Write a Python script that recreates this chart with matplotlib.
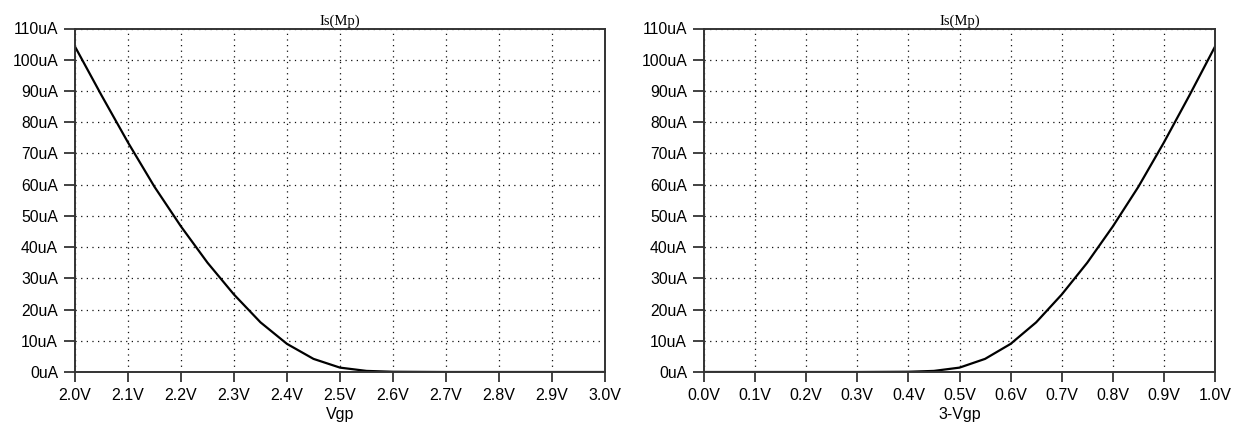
import numpy as np
from matplotlib import pyplot as plt

# values (uA)
vgp = [2.0, 2.05, 2.1, 2.15, 2.2, 2.25, 2.3, 2.35, 2.4, 2.45, 2.5, 2.55, 2.6,
       2.7, 2.8, 2.9, 3.0]
is_left = [104.2, 88.6, 73.5, 59.3, 46.6, 35.0, 24.8, 15.9, 9.0, 4.2, 1.4, 0.35, 0.08,
           0.0, 0.0, 0.0, 0.0]

vsg = [0.0, 0.1, 0.2, 0.3, 0.4, 0.45, 0.5, 0.55, 0.6, 0.65, 0.7, 0.75, 0.8,
       0.85, 0.9, 0.95, 1.0]
is_right = [0.0, 0.0, 0.0, 0.0, 0.08, 0.35, 1.4, 4.2, 9.0, 15.9, 24.8, 35.0, 46.6,
            59.3, 73.5, 88.6, 104.2]

yticks = list(range(0, 111, 10))
ylabels = ['%duA' % v for v in yticks]

fig = plt.figure(figsize=(12.34, 4.25), dpi=100)
W, H = 1234.0, 425.0
top, bottom = 28.5, 372.0
ax1 = fig.add_axes([75 / W, 1 - bottom / H, (605 - 75) / W, (bottom - top) / H])
ax2 = fig.add_axes([704 / W, 1 - bottom / H, (1215 - 704) / W, (bottom - top) / H])


def style(ax, xt, xl, xlabel):
    ax.set_ylim(0, 110)
    ax.set_yticks(yticks)
    ax.set_yticklabels(ylabels, family='Liberation Sans', fontsize=11.3)
    ax.set_xticks(xt)
    ax.set_xticklabels(xl, family='Liberation Sans', fontsize=11.5)
    ax.set_xlim(xt[0], xt[-1])
    ax.grid(True, color='#111111', linestyle=(0, (1, 3.5)), linewidth=0.9)
    ax.tick_params(axis='y', direction='out', length=7.7, width=1.2, color='#222222', pad=4.5)
    ax.tick_params(axis='x', direction='out', length=7.2, width=1.2, color='#222222', pad=4)
    for s in ax.spines.values():
        s.set_linewidth(1.4)
        s.set_color('#333333')
    ax.set_title('Is(Mp)', family='Liberation Serif', fontsize=10.5, pad=3)
    ax.set_xlabel(xlabel, family='Liberation Sans', fontsize=11.5, labelpad=3)


xt1 = [round(2.0 + 0.1 * i, 1) for i in range(11)]
xt2 = [round(0.1 * i, 1) for i in range(11)]

ax1.plot(vgp, is_left, color='black', linewidth=1.6)
style(ax1, xt1, ['%.1fV' % v for v in xt1], 'Vgp')

ax2.plot(vsg, is_right, color='black', linewidth=1.6)
style(ax2, xt2, ['%.1fV' % v for v in xt2], '3-Vgp')

plt.savefig('out.png', dpi=100)
